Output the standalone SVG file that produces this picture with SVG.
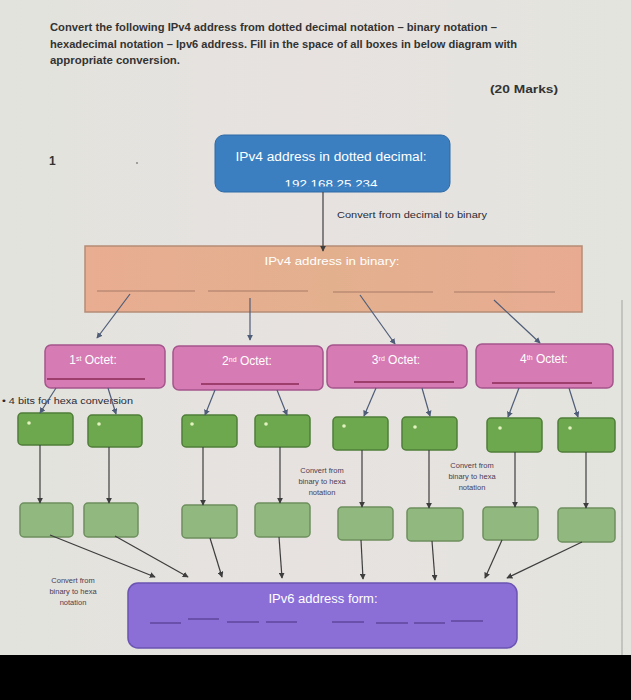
<svg xmlns="http://www.w3.org/2000/svg" width="631" height="700" viewBox="0 0 631 700">
<defs>
<marker id="ab" viewBox="0 0 8 8" refX="7" refY="4" markerWidth="6" markerHeight="6" orient="auto" markerUnits="userSpaceOnUse"><path d="M0,0 L8,4 L0,8 z" fill="#4f5d78"/></marker>
<marker id="ag" viewBox="0 0 8 8" refX="7" refY="4" markerWidth="6" markerHeight="6" orient="auto" markerUnits="userSpaceOnUse"><path d="M0,0 L8,4 L0,8 z" fill="#3e3e3e"/></marker>
<linearGradient id="bg" x1="0" y1="0" x2="1" y2="0"><stop offset="0" stop-color="#e2e3dd"/><stop offset="0.5" stop-color="#e7e2e0"/><stop offset="1" stop-color="#e3e4de"/></linearGradient>
<linearGradient id="og" x1="0" y1="0" x2="1" y2="0"><stop offset="0" stop-color="#e9ad92"/><stop offset="0.5" stop-color="#e3b08e"/><stop offset="1" stop-color="#e8ab92"/></linearGradient>
<clipPath id="clipnum"><rect x="215" y="170" width="235" height="16.5"/></clipPath>
<style>
.hd{font-family:"Liberation Sans",Arial,sans-serif;font-size:10px;font-weight:bold;fill:#333333}
.sm{font-family:"Liberation Sans",Arial,sans-serif;font-size:8.5px;fill:#2a2a33}
.cv{font-family:"Liberation Sans",Arial,sans-serif;font-size:7.5px;fill:#4a3c52;text-anchor:middle}
.wt{font-family:"Liberation Sans",Arial,sans-serif;fill:#ffffff;text-anchor:middle}
.oct{fill:#d67bb4;stroke:#a5568c;stroke-width:1.5}
.ul{stroke:#8a2a55;stroke-width:1.5}
.gt{fill:#6ea84e;stroke:#4f7d38;stroke-width:1.5}
.gb{fill:#91b87e;stroke:#6d8f5d;stroke-width:1.5}
.dot{fill:#e2f3c0}
.cb{stroke:#4f5d78;stroke-width:1.2;fill:none;marker-end:url(#ab)}
.cg{stroke:#3e3e3e;stroke-width:1.2;fill:none;marker-end:url(#ag)}
.ob{stroke:#a87a66;stroke-width:1.2}
.pd{stroke:#553a8e;stroke-width:1.2}
</style>
</defs>
<rect x="0" y="0" width="631" height="700" fill="url(#bg)"/>
<line x1="622" y1="300" x2="622" y2="655" stroke="#b8b8b4" stroke-width="1.5"/>
<rect x="0" y="655" width="631" height="45" fill="#000000"/>

<g id="header">
<text class="hd" x="50" y="31" textLength="447" lengthAdjust="spacingAndGlyphs">Convert the following IPv4 address from dotted decimal notation – binary notation –</text>
<text class="hd" x="50" y="48" textLength="467" lengthAdjust="spacingAndGlyphs">hexadecimal notation – Ipv6 address. Fill in the space of all boxes in below diagram with</text>
<text class="hd" x="50" y="64" textLength="130" lengthAdjust="spacingAndGlyphs">appropriate conversion.</text>
<text class="hd" x="490" y="93" textLength="68" lengthAdjust="spacingAndGlyphs">(20 Marks)</text>
<text class="hd" x="49" y="165" style="font-size:12px">1</text>
<circle cx="137" cy="163" r="1" fill="#888"/>
</g>

<g id="ipv4-decimal">
<rect x="215" y="135" width="235" height="57" rx="9" fill="#3b7fc1" stroke="#2f6aa5" stroke-width="1"/>
<text class="wt" x="331" y="161" style="font-size:12.5px" textLength="191" lengthAdjust="spacingAndGlyphs">IPv4 address in dotted decimal:</text>
<text class="wt" x="331" y="188" style="font-size:11.5px" textLength="93" lengthAdjust="spacingAndGlyphs" clip-path="url(#clipnum)">192.168.25.234</text>
</g>

<text class="sm" x="337" y="218" textLength="150" lengthAdjust="spacingAndGlyphs">Convert from decimal to binary</text>

<g id="ipv4-binary">
<rect x="85" y="246" width="497" height="66" fill="url(#og)" stroke="#b58c76" stroke-width="1.5"/>
<text class="wt" x="332" y="265" style="font-size:11.5px" textLength="135" lengthAdjust="spacingAndGlyphs">IPv4 address in binary:</text>
<line class="ob" x1="97" y1="291" x2="195" y2="291"/>
<line class="ob" x1="208" y1="291" x2="308" y2="291"/>
<line class="ob" x1="333" y1="292" x2="433" y2="292"/>
<line class="ob" x1="454" y1="292" x2="555" y2="292"/>
</g>

<g id="octet1"><rect class="oct" x="45" y="345" width="120" height="43" rx="6"/><text class="wt" x="93" y="364" style="font-size:12px">1<tspan baseline-shift="super" style="font-size:7px">st</tspan> Octet:</text><line class="ul" x1="47" y1="379" x2="145" y2="379"/></g>
<g id="octet2"><rect class="oct" x="173" y="346" width="150" height="44" rx="6"/><text class="wt" x="247" y="365" style="font-size:12px">2<tspan baseline-shift="super" style="font-size:7px">nd</tspan> Octet:</text><line class="ul" x1="201" y1="384" x2="299" y2="384"/></g>
<g id="octet3"><rect class="oct" x="327" y="345" width="140" height="43" rx="6"/><text class="wt" x="396" y="364" style="font-size:12px">3<tspan baseline-shift="super" style="font-size:7px">rd</tspan> Octet:</text><line class="ul" x1="354" y1="382" x2="454" y2="382"/></g>
<g id="octet4"><rect class="oct" x="476" y="344" width="137" height="44" rx="6"/><text class="wt" x="544" y="363" style="font-size:12px">4<tspan baseline-shift="super" style="font-size:7px">th</tspan> Octet:</text><line class="ul" x1="492" y1="383" x2="592" y2="383"/></g>

<text class="sm" x="2" y="404" textLength="131" lengthAdjust="spacingAndGlyphs">• 4 bits for hexa conversion</text>

<g id="g1"><rect class="gt" x="18" y="413" width="55" height="32" rx="4"/><circle class="dot" cx="29" cy="423" r="1.8"/></g>
<g id="g2"><rect class="gt" x="88" y="415" width="54" height="32" rx="4"/><circle class="dot" cx="99" cy="424" r="1.8"/></g>
<g id="g3"><rect class="gt" x="182" y="415" width="55" height="32" rx="4"/><circle class="dot" cx="192" cy="424" r="1.8"/></g>
<g id="g4"><rect class="gt" x="255" y="415" width="55" height="32" rx="4"/><circle class="dot" cx="266" cy="424" r="1.8"/></g>
<g id="g5"><rect class="gt" x="333" y="417" width="55" height="33" rx="4"/><circle class="dot" cx="344" cy="426" r="1.8"/></g>
<g id="g6"><rect class="gt" x="402" y="417" width="55" height="33" rx="4"/><circle class="dot" cx="415" cy="427" r="1.8"/></g>
<g id="g7"><rect class="gt" x="487" y="418" width="55" height="34" rx="4"/><circle class="dot" cx="500" cy="428" r="1.8"/></g>
<g id="g8"><rect class="gt" x="558" y="418" width="57" height="34" rx="4"/><circle class="dot" cx="570" cy="428" r="1.8"/></g>

<g id="b1"><rect class="gb" x="20" y="503" width="53" height="34" rx="4"/></g>
<g id="b2"><rect class="gb" x="84" y="503" width="54" height="34" rx="4"/></g>
<g id="b3"><rect class="gb" x="182" y="505" width="55" height="33" rx="4"/></g>
<g id="b4"><rect class="gb" x="255" y="503" width="55" height="34" rx="4"/></g>
<g id="b5"><rect class="gb" x="338" y="507" width="55" height="33" rx="4"/></g>
<g id="b6"><rect class="gb" x="407" y="508" width="56" height="33" rx="4"/></g>
<g id="b7"><rect class="gb" x="483" y="507" width="55" height="33" rx="4"/></g>
<g id="b8"><rect class="gb" x="558" y="508" width="57" height="34" rx="4"/></g>

<g id="labels">
<text class="cv" x="322" y="473">Convert from</text>
<text class="cv" x="322" y="484">binary to hexa</text>
<text class="cv" x="322" y="495">notation</text>
<text class="cv" x="472" y="468">Convert from</text>
<text class="cv" x="472" y="479">binary to hexa</text>
<text class="cv" x="472" y="490">notation</text>
<text class="cv" x="73" y="583">Convert from</text>
<text class="cv" x="73" y="594">binary to hexa</text>
<text class="cv" x="73" y="605">notation</text>
</g>

<g id="ipv6">
<rect x="128" y="583" width="389" height="65" rx="10" fill="#8b6fd7" stroke="#6b54b3" stroke-width="1.5"/>
<text class="wt" x="323" y="603" style="font-size:12px" textLength="109" lengthAdjust="spacingAndGlyphs">IPv6 address form:</text>
<line class="pd" x1="150" y1="623" x2="181" y2="623"/>
<line class="pd" x1="188" y1="619" x2="219" y2="619"/>
<line class="pd" x1="227" y1="622" x2="259" y2="622"/>
<line class="pd" x1="266" y1="622" x2="297" y2="622"/>
<line class="pd" x1="332" y1="622" x2="364" y2="622"/>
<line class="pd" x1="376" y1="623" x2="408" y2="623"/>
<line class="pd" x1="414" y1="623" x2="445" y2="623"/>
<line class="pd" x1="451" y1="621" x2="483" y2="621"/>
</g>

<g id="connectors">
<line class="cg" x1="323" y1="192" x2="323" y2="251"/>
<line class="cb" x1="130" y1="294" x2="97" y2="338"/>
<line class="cb" x1="250" y1="298" x2="250" y2="340"/>
<line class="cb" x1="360" y1="295" x2="395" y2="344"/>
<line class="cb" x1="494" y1="300" x2="540" y2="343"/>
<line class="cb" x1="56" y1="388" x2="40" y2="413"/>
<line class="cb" x1="108" y1="388" x2="116" y2="414"/>
<line class="cb" x1="215" y1="390" x2="205" y2="415"/>
<line class="cb" x1="277" y1="390" x2="287" y2="415"/>
<line class="cb" x1="376" y1="388" x2="364" y2="416"/>
<line class="cb" x1="422" y1="388" x2="430" y2="416"/>
<line class="cb" x1="519" y1="388" x2="508" y2="417"/>
<line class="cb" x1="569" y1="388" x2="578" y2="417"/>
<line class="cg" x1="40" y1="445" x2="40" y2="503"/>
<line class="cg" x1="109" y1="447" x2="109" y2="503"/>
<line class="cg" x1="203" y1="447" x2="203" y2="505"/>
<line class="cg" x1="280" y1="447" x2="280" y2="503"/>
<line class="cg" x1="362" y1="450" x2="362" y2="507"/>
<line class="cg" x1="429" y1="450" x2="429" y2="508"/>
<line class="cg" x1="515" y1="452" x2="515" y2="507"/>
<line class="cg" x1="586" y1="452" x2="586" y2="508"/>
<line class="cg" x1="50" y1="535" x2="155" y2="577"/>
<line class="cg" x1="115" y1="536" x2="188" y2="577"/>
<line class="cg" x1="210" y1="538" x2="222" y2="577"/>
<line class="cg" x1="279" y1="537" x2="282" y2="578"/>
<line class="cg" x1="361" y1="540" x2="363" y2="579"/>
<line class="cg" x1="432" y1="541" x2="435" y2="580"/>
<line class="cg" x1="502" y1="540" x2="485" y2="578"/>
<line class="cg" x1="582" y1="542" x2="507" y2="578"/>
</g>
</svg>
